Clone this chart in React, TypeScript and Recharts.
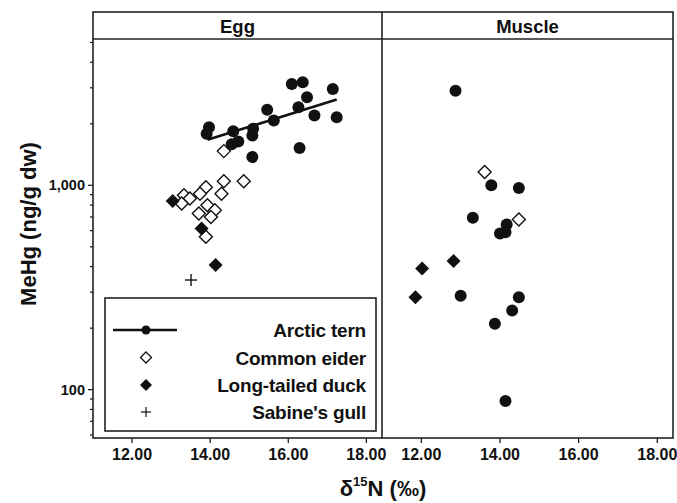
import { ScatterChart, Scatter, XAxis, YAxis } from "recharts";

// δ15N (x) and MeHg ng/g dw (y)
const eggTern = [
  { x: 13.97, y: 1924 }, { x: 13.91, y: 1787 }, { x: 14.59, y: 1840 },
  { x: 14.55, y: 1590 }, { x: 14.72, y: 1640 }, { x: 15.10, y: 1891 },
  { x: 15.08, y: 1753 }, { x: 15.08, y: 1374 }, { x: 15.46, y: 2340 },
  { x: 15.63, y: 2075 }, { x: 16.09, y: 3133 }, { x: 16.37, y: 3190 },
  { x: 16.48, y: 2697 }, { x: 16.26, y: 2410 }, { x: 16.67, y: 2195 },
  { x: 16.29, y: 1521 }, { x: 17.14, y: 2964 }, { x: 17.24, y: 2153 },
];
const eggTernFit = [{ x: 13.93, y: 1670 }, { x: 17.24, y: 2630 }];
const eggEider = [
  { x: 14.35, y: 1470 }, { x: 14.35, y: 1046 }, { x: 14.86, y: 1046 },
  { x: 13.89, y: 978 }, { x: 14.29, y: 909 }, { x: 13.74, y: 909 },
  { x: 13.33, y: 894 }, { x: 13.48, y: 861 }, { x: 13.27, y: 814 },
  { x: 13.93, y: 799 }, { x: 14.12, y: 755 }, { x: 14.02, y: 700 },
  { x: 13.71, y: 728 }, { x: 13.89, y: 560 },
];
const eggDuck = [{ x: 13.04, y: 838 }, { x: 13.78, y: 615 }, { x: 14.14, y: 407 }];
const eggGull = [{ x: 13.51, y: 344 }];

const muscleTern = [
  { x: 12.87, y: 2906 }, { x: 13.78, y: 1000 }, { x: 14.48, y: 970 },
  { x: 13.31, y: 693 }, { x: 14.17, y: 643 }, { x: 14.0, y: 581 },
  { x: 14.14, y: 590 }, { x: 13.0, y: 288 }, { x: 14.48, y: 283 },
  { x: 14.31, y: 244 }, { x: 13.87, y: 210 }, { x: 14.14, y: 88 },
];
const muscleEider = [{ x: 13.61, y: 1161 }, { x: 14.48, y: 680 }];
const muscleDuck = [{ x: 12.02, y: 392 }, { x: 12.82, y: 426 }, { x: 11.85, y: 283 }];

const xTicks = [12, 14, 16, 18];
const yTicks = [60, 70, 80, 90, 100, 200, 300, 400, 500, 600, 700, 800, 900, 1000, 2000, 3000, 4000, 5000];
const yLabels: Record<number, string> = { 100: "100", 1000: "1,000" };

const FONT = "'Liberation Sans', Arial, sans-serif";
const INK = "#111";

const Dot = (p: any) => <circle cx={p.cx} cy={p.cy} r={6} fill={INK} />;
const OpenDiamond = (p: any) => (
  <polygon
    points={`${p.cx},${p.cy - 6.5} ${p.cx + 6.5},${p.cy} ${p.cx},${p.cy + 6.5} ${p.cx - 6.5},${p.cy}`}
    fill="#fff" stroke={INK} strokeWidth={1.4}
  />
);
const FilledDiamond = (p: any) => (
  <polygon
    points={`${p.cx},${p.cy - 7} ${p.cx + 7},${p.cy} ${p.cx},${p.cy + 7} ${p.cx - 7},${p.cy}`}
    fill={INK}
  />
);
const Plus = (p: any) => (
  <g stroke={INK} strokeWidth={1.4}>
    <line x1={p.cx - 6} y1={p.cy} x2={p.cx + 6} y2={p.cy} />
    <line x1={p.cx} y1={p.cy - 6} x2={p.cx} y2={p.cy + 6} />
  </g>
);
const NoShape = () => <g />;

const YTick = ({ x, y, payload }: any) => {
  const label = yLabels[payload.value];
  const len = label ? 5 : 3;
  return (
    <g>
      <line x1={x} y1={y} x2={x - len} y2={y} stroke={INK} strokeWidth={1.2} />
      {label && (
        <text x={x - 8} y={y} textAnchor="end" dominantBaseline="central"
          fontFamily={FONT} fontWeight="bold" fontSize={14.5} fill={INK}>
          {label}
        </text>
      )}
    </g>
  );
};

const xTickStyle = { fontFamily: FONT, fontWeight: "bold", fontSize: 16, fill: INK };

// both panels span the full width so edge tick labels are never clipped
const Panel = ({ margin, showY, children }: any) => (
  <ScatterChart width={677} height={503} margin={margin}>
    <XAxis type="number" dataKey="x" domain={[11, 18.4]} ticks={xTicks} allowDataOverflow
      tickFormatter={(v: number) => v.toFixed(2)} axisLine={false}
      tickLine={{ stroke: INK, strokeWidth: 1.2 }} tickSize={5} tickMargin={6}
      height={30} tick={xTickStyle} interval={0} />
    <YAxis type="number" dataKey="y" scale="log" domain={[58, 5200]} allowDataOverflow
      ticks={yTicks} interval={0} axisLine={false} tickLine={false} tickSize={0} tickMargin={0}
      width={93} tick={<YTick />} hide={!showY} />
    {children}
  </ScatterChart>
);

export default function App() {
  return (
    <div style={{ position: "absolute", left: 0, top: 0, width: 677, height: 503, background: "#fff" }}>
      <div style={{ position: "absolute", left: 0, top: 0 }}>
        <Panel margin={{ top: 39, right: 295, bottom: 35, left: 0 }} showY>
          <Scatter data={eggEider} shape={OpenDiamond} isAnimationActive={false} />
          <Scatter data={eggDuck} shape={FilledDiamond} isAnimationActive={false} />
          <Scatter data={eggGull} shape={Plus} isAnimationActive={false} />
          <Scatter data={eggTern} shape={Dot} isAnimationActive={false} />
          <Scatter data={eggTernFit} shape={NoShape} line={{ stroke: INK, strokeWidth: 2.6 }} isAnimationActive={false} />
        </Panel>
      </div>
      <div style={{ position: "absolute", left: 0, top: 0 }}>
        <Panel margin={{ top: 39, right: 4, bottom: 35, left: 382 }} showY={false}>
          <Scatter data={muscleEider} shape={OpenDiamond} isAnimationActive={false} />
          <Scatter data={muscleDuck} shape={FilledDiamond} isAnimationActive={false} />
          <Scatter data={muscleTern} shape={Dot} isAnimationActive={false} />
        </Panel>
      </div>
      <svg width={677} height={503} style={{ position: "absolute", left: 0, top: 0, pointerEvents: "none" }}>
        <g fill="none" stroke="#222" strokeWidth={1.6}>
          <rect x={93} y={12} width={580} height={426} />
          <line x1={382} y1={12} x2={382} y2={438} />
          <line x1={93} y1={39} x2={673} y2={39} />
        </g>
        <g fontFamily={FONT} fontWeight="bold" fill={INK}>
          <text x={237.5} y={26} textAnchor="middle" dominantBaseline="central" fontSize={18.5}>Egg</text>
          <text x={527.5} y={26} textAnchor="middle" dominantBaseline="central" fontSize={18.5}>Muscle</text>
          <text transform="translate(28,224) rotate(-90)" textAnchor="middle" dominantBaseline="central" fontSize={22}>
            MeHg (ng/g dw)
          </text>
          <text x={383} y={488} textAnchor="middle" dominantBaseline="central" fontSize={22}>
            δ<tspan fontSize={13} dy={-7}>15</tspan><tspan dy={7}>N (‰)</tspan>
          </text>
        </g>
        <g>
          <rect x={105} y={298} width={271} height={133} fill="#fff" stroke="#222" strokeWidth={1.6} />
          <line x1={113} y1={330} x2={177} y2={330} stroke={INK} strokeWidth={2.6} />
          <circle cx={146} cy={330} r={4.5} fill={INK} />
          <polygon points="146,352 151.5,357.5 146,363 140.5,357.5" fill="#fff" stroke={INK} strokeWidth={1.3} />
          <polygon points="146,379 152,385 146,391 140,385" fill={INK} />
          <g stroke={INK} strokeWidth={1.2}>
            <line x1={141} y1={412} x2={151} y2={412} />
            <line x1={146} y1={407} x2={146} y2={417} />
          </g>
          <g fontFamily={FONT} fontWeight="bold" fontSize={19} fill={INK} textAnchor="end" letterSpacing={-0.2}>
            <text x={366} y={330} dominantBaseline="central">Arctic tern</text>
            <text x={366} y={358} dominantBaseline="central">Common eider</text>
            <text x={366} y={385} dominantBaseline="central">Long-tailed duck</text>
            <text x={366} y={412} dominantBaseline="central">Sabine's gull</text>
          </g>
        </g>
      </svg>
    </div>
  );
}
